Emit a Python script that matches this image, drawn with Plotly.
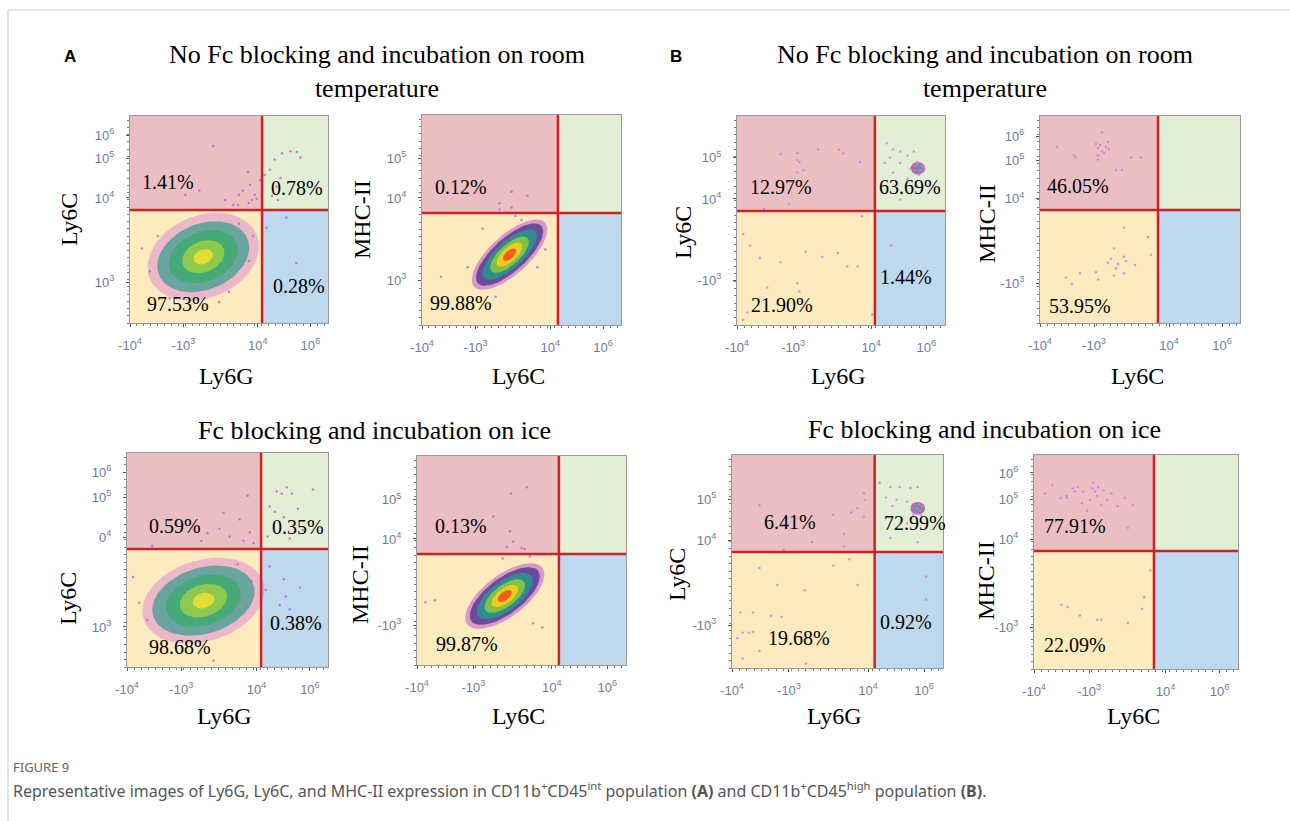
import numpy as np
import plotly.graph_objects as go

W, H = 1290, 821

# ---------------- data ----------------
panels = ["A1", "A2", "B1", "B2", "A3", "A4", "B3", "B4"]
x_titles = ["Ly6G", "Ly6C", "Ly6G", "Ly6C", "Ly6G", "Ly6C", "Ly6G", "Ly6C"]
y_titles = ["Ly6C", "MHC-II", "Ly6C", "MHC-II", "Ly6C", "MHC-II", "Ly6C", "MHC-II"]

# quadrant percentages: upper-left, upper-right, lower-right, lower-left
pct_ul = ["1.41%", "0.12%", "12.97%", "46.05%", "0.59%", "0.13%", "6.41%", "77.91%"]
pct_ur = ["0.78%", None, "63.69%", None, "0.35%", None, "72.99%", None]
pct_lr = ["0.28%", None, "1.44%", None, "0.38%", None, "0.92%", None]
pct_ll = ["97.53%", "99.88%", "21.90%", "53.95%", "98.68%", "99.87%", "19.68%", "22.09%"]

# gate positions on the display scale (fraction of axis)
gate_x = [0.667, 0.683, 0.663, 0.590, 0.667, 0.679, 0.676, 0.588]
gate_y = [0.546, 0.533, 0.545, 0.546, 0.551, 0.531, 0.545, 0.551]

x_tick_vals = [0.0, 0.27, 0.645, 0.91]
x_tick_text = ["-10<sup>4</sup>", "-10<sup>3</sup>", "10<sup>4</sup>", "10<sup>6</sup>"]

y_tick_vals = {
    "A1": [0.198, 0.604, 0.797, 0.908],
    "A2": [0.214, 0.605, 0.795],
    "B1": [0.215, 0.603, 0.800],
    "B2": [0.193, 0.600, 0.787, 0.903],
    "A3": [0.187, 0.607, 0.794, 0.911],
    "A4": [0.190, 0.603, 0.790],
    "B3": [0.200, 0.600, 0.793],
    "B4": [0.196, 0.607, 0.794, 0.916],
}
y_tick_text = {
    "A1": ["10<sup>3</sup>", "10<sup>4</sup>", "10<sup>5</sup>", "10<sup>6</sup>"],
    "A2": ["10<sup>3</sup>", "10<sup>4</sup>", "10<sup>5</sup>"],
    "B1": ["-10<sup>3</sup>", "10<sup>4</sup>", "10<sup>5</sup>"],
    "B2": ["-10<sup>3</sup>", "10<sup>4</sup>", "10<sup>5</sup>", "10<sup>6</sup>"],
    "A3": ["10<sup>3</sup>", "0<sup>4</sup>", "10<sup>5</sup>", "10<sup>6</sup>"],
    "A4": ["-10<sup>3</sup>", "10<sup>4</sup>", "10<sup>5</sup>"],
    "B3": ["-10<sup>3</sup>", "10<sup>4</sup>", "10<sup>5</sup>"],
    "B4": ["-10<sup>3</sup>", "10<sup>4</sup>", "10<sup>5</sup>", "10<sup>6</sup>"],
}

# sparse events (display-scale coordinates)
a1_x = [0.42, 0.57, 0.606, 0.63, 0.657, 0.68, 0.707, 0.73, 0.768, 0.81, 0.843, 0.86, 0.616, 0.545,
        0.48, 0.596, 0.717, 0.747, 0.69, 0.79, 0.84, 0.35, 0.28, 0.667, 0.60, 0.64, 0.55, 0.52, 0.74,
        0.76, 0.06, 0.10, 0.14, 0.62, 0.60, 0.55, 0.20, 0.45, 0.50]
a1_y = [0.855, 0.64, 0.667, 0.62, 0.69, 0.715, 0.74, 0.79, 0.82, 0.83, 0.826, 0.80, 0.594, 0.57,
        0.594, 0.73, 0.613, 0.594, 0.46, 0.51, 0.29, 0.64, 0.62, 0.556, 0.58, 0.60, 0.62, 0.57, 0.66,
        0.70, 0.36, 0.25, 0.42, 0.42, 0.30, 0.48, 0.12, 0.10, 0.15]
a2_x = [0.45, 0.53, 0.39, 0.39, 0.45, 0.305, 0.23, 0.095, 0.37, 0.58, 0.62, 0.47, 0.50]
a2_y = [0.635, 0.615, 0.58, 0.55, 0.56, 0.46, 0.275, 0.23, 0.135, 0.275, 0.36, 0.52, 0.50]
b1_x = [0.21, 0.29, 0.29, 0.30, 0.39, 0.49, 0.51, 0.59, 0.29, 0.32, 0.25, 0.13,
        0.60, 0.03, 0.063, 0.11, 0.21, 0.29, 0.33, 0.41, 0.485, 0.53, 0.58, 0.145, 0.05, 0.03, 0.30, 0.65,
        0.74,
        0.72, 0.75, 0.785, 0.82, 0.85, 0.735, 0.71, 0.785, 0.835, 0.75, 0.82, 0.785,
        0.86, 0.88, 0.87, 0.89, 0.855, 0.875, 0.90, 0.865]
b1_y = [0.818, 0.823, 0.79, 0.78, 0.84, 0.84, 0.82, 0.78, 0.73, 0.74, 0.58, 0.555,
        0.52, 0.435, 0.38, 0.32, 0.30, 0.20, 0.35, 0.325, 0.345, 0.28, 0.28, 0.18, 0.06, 0.025, 0.16, 0.05,
        0.38,
        0.87, 0.84, 0.83, 0.81, 0.83, 0.80, 0.775, 0.775, 0.75, 0.73, 0.70, 0.60,
        0.76, 0.74, 0.77, 0.76, 0.74, 0.72, 0.75, 0.78]
b2_x = [0.085, 0.17, 0.177, 0.28, 0.31, 0.29, 0.29, 0.29, 0.31, 0.33, 0.34, 0.345, 0.32, 0.38, 0.41,
        0.455, 0.505, 0.30,
        0.42, 0.54, 0.555, 0.37, 0.355, 0.34, 0.39, 0.42, 0.43, 0.38, 0.42, 0.37, 0.475, 0.28, 0.29,
        0.20, 0.13, 0.16]
b2_y = [0.85, 0.81, 0.80, 0.865, 0.92, 0.845, 0.81, 0.79, 0.83, 0.85, 0.875, 0.84, 0.82, 0.74, 0.74,
        0.80, 0.80, 0.86,
        0.46, 0.415, 0.33, 0.36, 0.31, 0.29, 0.285, 0.32, 0.30, 0.265, 0.24, 0.23, 0.28, 0.245, 0.21,
        0.24, 0.22, 0.19]
a3_x = [0.60, 0.48, 0.56, 0.46, 0.37, 0.61, 0.51, 0.58, 0.63, 0.40, 0.125,
        0.745, 0.77, 0.82, 0.795, 0.925, 0.71, 0.735, 0.85, 0.78, 0.70, 0.81, 0.875,
        0.71, 0.78, 0.79, 0.76, 0.86, 0.69, 0.81,
        0.43, 0.03, 0.06, 0.10, 0.62, 0.60, 0.55]
a3_y = [0.80, 0.72, 0.69, 0.645, 0.59, 0.63, 0.61, 0.59, 0.58, 0.625, 0.565,
        0.82, 0.81, 0.81, 0.84, 0.83, 0.75, 0.725, 0.74, 0.70, 0.61, 0.60, 0.64,
        0.47, 0.41, 0.33, 0.29, 0.37, 0.36, 0.27,
        0.03, 0.42, 0.30, 0.22, 0.40, 0.28, 0.48]
a4_x = [0.525, 0.45, 0.365, 0.445, 0.46, 0.50, 0.43, 0.515, 0.41, 0.54, 0.04, 0.086, 0.60, 0.555]
a4_y = [0.85, 0.82, 0.71, 0.64, 0.59, 0.56, 0.565, 0.555, 0.51, 0.52, 0.30, 0.31, 0.18, 0.20]
b3_x = [0.13, 0.625, 0.63, 0.595, 0.565, 0.48, 0.625, 0.53, 0.38, 0.53, 0.245,
        0.13, 0.48, 0.555, 0.215, 0.345, 0.595, 0.04, 0.10, 0.185, 0.235, 0.05, 0.08, 0.10, 0.025, 0.13,
        0.05, 0.35,
        0.92, 0.92,
        0.70, 0.75, 0.795, 0.845, 0.88, 0.73, 0.78, 0.83, 0.76, 0.86, 0.75, 0.88, 0.83,
        0.875, 0.89, 0.885, 0.90, 0.87, 0.895]
b3_y = [0.765, 0.82, 0.79, 0.75, 0.73, 0.72, 0.71, 0.63, 0.59, 0.57, 0.555,
        0.47, 0.48, 0.51, 0.39, 0.365, 0.39, 0.26, 0.26, 0.245, 0.24, 0.165, 0.165, 0.17, 0.14, 0.08,
        0.045, 0.02,
        0.43, 0.32,
        0.87, 0.85, 0.85, 0.845, 0.85, 0.80, 0.79, 0.78, 0.76, 0.72, 0.61, 0.59, 0.68,
        0.75, 0.74, 0.77, 0.76, 0.73, 0.72]
b4_x = [0.055, 0.09, 0.13, 0.16, 0.16, 0.19, 0.20, 0.215, 0.24, 0.26, 0.235, 0.275, 0.29, 0.30,
        0.31, 0.315, 0.34, 0.33, 0.36, 0.38, 0.41, 0.445, 0.485, 0.46, 0.285,
        0.135, 0.165, 0.225, 0.31, 0.33, 0.46, 0.53, 0.54, 0.57]
b4_y = [0.82, 0.86, 0.80, 0.81, 0.80, 0.845, 0.83, 0.85, 0.83, 0.74, 0.775, 0.79, 0.87, 0.83,
        0.81, 0.85, 0.835, 0.765, 0.79, 0.82, 0.76, 0.80, 0.765, 0.66, 0.845,
        0.30, 0.29, 0.25, 0.23, 0.23, 0.215, 0.28, 0.335, 0.46]
dots_x = {"A1": a1_x, "A2": a2_x, "B1": b1_x, "B2": b2_x, "A3": a3_x, "A4": a4_x, "B3": b3_x, "B4": b4_x}
dots_y = {"A1": a1_y, "A2": a2_y, "B1": b1_y, "B2": b2_y, "A3": a3_y, "A4": a4_y, "B3": b3_y, "B4": b4_y}

# dense event clouds: centre, tilt and nested density contours (half-axes)
cloud_panel = ["A1", "A3", "A2", "A4", "B1", "B3"]
cloud_cx = [0.37, 0.38, 0.44, 0.42, 0.87, 0.88]
cloud_cy = [0.32, 0.31, 0.335, 0.33, 0.75, 0.75]
cloud_angle = [20, 15, 40, 37, 0, 0]
cloud_a = [[0.29, 0.24, 0.18, 0.11, 0.05],
           [0.31, 0.26, 0.19, 0.12, 0.055],
           [0.235, 0.21, 0.17, 0.12, 0.08, 0.04],
           [0.225, 0.20, 0.16, 0.115, 0.075, 0.04],
           [0.035, 0.015],
           [0.035, 0.015]]
cloud_b = [[0.20, 0.16, 0.12, 0.075, 0.035],
           [0.19, 0.155, 0.115, 0.075, 0.035],
           [0.095, 0.08, 0.065, 0.05, 0.035, 0.02],
           [0.10, 0.085, 0.07, 0.052, 0.036, 0.02],
           [0.03, 0.015],
           [0.03, 0.015]]

# ---------------- layout / styles ----------------
PANEL_BOX = {  # left, right, top, bottom in pixels
    "A1": (130, 328, 116, 323), "A2": (422, 621, 115, 325),
    "B1": (737, 945, 116, 325), "B2": (1040, 1240, 116, 323),
    "A3": (127, 328, 453, 667), "A4": (417, 626, 456, 665),
    "B3": (732, 943, 455, 668), "B4": (1034, 1238, 455, 669),
}
PCT_POS = {  # (x, y) of UL, UR, LR, LL labels (left-anchored)
    "A1": [(0.05, 0.68), (0.70, 0.65), (0.71, 0.18), (0.076, 0.09)],
    "A2": [(0.055, 0.657), None, None, (0.03, 0.105)],
    "B1": [(0.053, 0.66), (0.673, 0.66), (0.678, 0.23), (0.058, 0.096)],
    "B2": [(0.025, 0.66), None, None, (0.035, 0.08)],
    "A3": [(0.10, 0.66), (0.71, 0.654), (0.70, 0.205), (0.10, 0.093)],
    "A4": [(0.077, 0.665), None, None, (0.08, 0.10)],
    "B3": [(0.142, 0.685), (0.71, 0.68), (0.69, 0.216), (0.16, 0.14)],
    "B4": [(0.04, 0.668), None, None, (0.04, 0.112)],
}
YTITLE_POS = {"A1": (69, 220), "A2": (362, 220), "B1": (683, 233), "B2": (987, 224),
              "A3": (68, 599), "A4": (360, 585), "B3": (677, 575), "B4": (986, 581)}
XTITLE_Y = {"A1": 376, "A2": 376, "B1": 376, "B2": 376, "A3": 716, "A4": 716, "B3": 716, "B4": 716}

Q_UL, Q_UR, Q_LL, Q_LR = "#ebbfc2", "#e2efd6", "#fdebc0", "#bed9ee"
GATE = "#d11f26"
TICK_COL = "#6d7d9a"
SERIF = "Liberation Serif"
DOT_A = "rgba(200,80,215,0.75)"
DOT_B = "rgba(210,120,225,0.8)"
CLOUD_COLS_WIDE = ["rgba(200,90,215,0.35)", "rgba(50,155,140,0.70)", "rgba(60,170,110,0.80)",
                   "rgba(150,205,70,0.88)", "rgba(232,222,50,0.92)"]
CLOUD_COLS_TIGHT = ["rgba(185,70,205,0.5)", "rgba(70,50,140,0.75)", "rgba(40,150,140,0.85)",
                    "rgba(135,200,60,0.9)", "rgba(245,205,30,0.92)", "rgba(240,85,30,0.92)"]
CLOUD_COLS_SMALL = ["rgba(150,70,175,0.75)", "rgba(70,170,110,0.85)"]


def ax_ids(i):
    s = "" if i == 0 else str(i + 1)
    return "x" + s, "y" + s, "xaxis" + s, "yaxis" + s


def ellipse(cx, cy, a, b, ang):
    t = np.linspace(0, 2 * np.pi, 80)
    th = np.deg2rad(ang)
    return (cx + a * np.cos(t) * np.cos(th) - b * np.sin(t) * np.sin(th),
            cy + a * np.cos(t) * np.sin(th) + b * np.sin(t) * np.cos(th))


fig = go.Figure()
shapes, annotations, layout_axes = [], [], {}

for i, p in enumerate(panels):
    xr, yr, xk, yk = ax_ids(i)
    l, r, t, b = PANEL_BOX[p]
    gx, gy = gate_x[i], gate_y[i]
    tickfont = dict(family="Liberation Sans", size=13, color=TICK_COL)
    layout_axes[xk] = dict(domain=[l / W, r / W], range=[0, 1], anchor=yr, showgrid=False, zeroline=False,
                           showline=True, mirror=True, linecolor="#9a9a9a", linewidth=1,
                           ticks="outside", ticklen=3, tickcolor="#555", tickmode="array",
                           tickvals=x_tick_vals, ticktext=x_tick_text, tickfont=tickfont,
                           ticklabelstandoff=7, fixedrange=True, automargin=False,
                           minor=dict(ticks="outside", ticklen=2, tickcolor="#777", tickmode="linear",
                                      tick0=0, dtick=0.035, showgrid=False))
    layout_axes[yk] = dict(domain=[1 - b / H, 1 - t / H], range=[0, 1], anchor=xr, showgrid=False,
                           zeroline=False, showline=True, mirror=True, linecolor="#9a9a9a", linewidth=1,
                           ticks="outside", ticklen=3, tickcolor="#555", tickmode="array",
                           tickvals=y_tick_vals[p], ticktext=y_tick_text[p], tickfont=tickfont,
                           ticklabelstandoff=9, fixedrange=True, automargin=False,
                           minor=dict(ticks="outside", ticklen=2, tickcolor="#777", tickmode="linear",
                                      tick0=0, dtick=0.035, showgrid=False))
    for (x0, x1, y0, y1, c) in [(0, gx, gy, 1, Q_UL), (gx, 1, gy, 1, Q_UR),
                                (0, gx, 0, gy, Q_LL), (gx, 1, 0, gy, Q_LR)]:
        shapes.append(dict(type="rect", xref=xr, yref=yr, x0=x0, x1=x1, y0=y0, y1=y1,
                           fillcolor=c, line=dict(width=0), layer="below"))
    shapes.append(dict(type="line", xref=xr, yref=yr, x0=gx, x1=gx, y0=0, y1=1,
                       line=dict(color=GATE, width=2.5), layer="above"))
    shapes.append(dict(type="line", xref=xr, yref=yr, x0=0, x1=1, y0=gy, y1=gy,
                       line=dict(color=GATE, width=2.5), layer="above"))
    for lab, pos in zip([pct_ul[i], pct_ur[i], pct_lr[i], pct_ll[i]], PCT_POS[p]):
        if lab is None:
            continue
        annotations.append(dict(xref=xr, yref=yr, x=pos[0], y=pos[1], text=lab, showarrow=False,
                                xanchor="left", yanchor="middle",
                                font=dict(family=SERIF, size=20, color="black")))
    yx, yy = YTITLE_POS[p]
    annotations.append(dict(xref="paper", yref="paper", x=yx / W, y=1 - yy / H, text=y_titles[i],
                            textangle=-90, showarrow=False, xanchor="center", yanchor="middle",
                            font=dict(family=SERIF, size=24, color="black")))
    annotations.append(dict(xref="paper", yref="paper", x=((l + r) / 2 - 3) / W, y=1 - XTITLE_Y[p] / H,
                            text=x_titles[i], showarrow=False, xanchor="center", yanchor="middle",
                            font=dict(family=SERIF, size=24, color="black")))

for k, p in enumerate(cloud_panel):
    i = panels.index(p)
    xr, yr, _, _ = ax_ids(i)
    n = len(cloud_a[k])
    cols = CLOUD_COLS_WIDE if n == 5 else (CLOUD_COLS_TIGHT if n == 6 else CLOUD_COLS_SMALL)
    for j in range(n):
        ex, ey = ellipse(cloud_cx[k], cloud_cy[k], cloud_a[k][j], cloud_b[k][j], cloud_angle[k])
        fig.add_trace(go.Scatter(x=ex, y=ey, xaxis=xr, yaxis=yr, mode="lines", fill="toself",
                                 fillcolor=cols[j], line=dict(width=0), hoverinfo="skip",
                                 showlegend=False))

for i, p in enumerate(panels):
    xr, yr, _, _ = ax_ids(i)
    fig.add_trace(go.Scatter(x=dots_x[p], y=dots_y[p], xaxis=xr, yaxis=yr, mode="markers",
                             marker=dict(size=2.5, color=DOT_A if p.startswith("A") else DOT_B),
                             hoverinfo="skip", showlegend=False))

titles = ["No Fc blocking and incubation on room<br>temperature",
          "No Fc blocking and incubation on room<br>temperature",
          "Fc blocking and incubation on ice", "Fc blocking and incubation on ice"]
title_pos = [(377, 71), (985, 71), (374, 430), (984, 429)]
for txt, (tx, ty) in zip(titles, title_pos):
    annotations.append(dict(xref="paper", yref="paper", x=tx / W, y=1 - ty / H, text=txt,
                            showarrow=False, xanchor="center", yanchor="middle",
                            font=dict(family=SERIF, size=26, color="black")))
for txt, (tx, ty) in zip(["A", "B"], [(70, 57), (676, 57)]):
    annotations.append(dict(xref="paper", yref="paper", x=tx / W, y=1 - ty / H, text="<b>%s</b>" % txt,
                            showarrow=False, xanchor="center", yanchor="middle",
                            font=dict(family="Liberation Sans", size=17, color="black")))

annotations.append(dict(xref="paper", yref="paper", x=11 / W, y=1 - 767 / H, text="FIGURE 9",
                        showarrow=False, xanchor="left", yanchor="middle",
                        font=dict(family="Noto Sans", size=13, color="#666666")))
annotations.append(dict(xref="paper", yref="paper", x=11 / W, y=1 - 790 / H,
                        text="Representative images of Ly6G, Ly6C, and MHC-II expression in "
                             "CD11b<sup>+</sup>CD45<sup>int</sup> population <b>(A)</b> and "
                             "CD11b<sup>+</sup>CD45<sup>high</sup> population <b>(B)</b>.",
                        showarrow=False, xanchor="left", yanchor="middle",
                        font=dict(family="Noto Sans", size=16, color="#555555")))

shapes.append(dict(type="line", xref="paper", yref="paper", x0=8 / W, x1=1, y0=1 - 10 / H, y1=1 - 10 / H,
                   line=dict(color="#c8c8c8", width=1)))
shapes.append(dict(type="line", xref="paper", yref="paper", x0=8 / W, x1=8 / W, y0=0, y1=1 - 10 / H,
                   line=dict(color="#c8c8c8", width=1)))

fig.update_layout(width=W, height=H, margin=dict(l=0, r=0, t=0, b=0, pad=0), paper_bgcolor="white",
                  plot_bgcolor="white", shapes=shapes, annotations=annotations, showlegend=False,
                  **layout_axes)

fig.write_html("out.html", config={"displayModeBar": False},
               post_script="document.body.style.margin='0';document.body.style.overflow='hidden';")
